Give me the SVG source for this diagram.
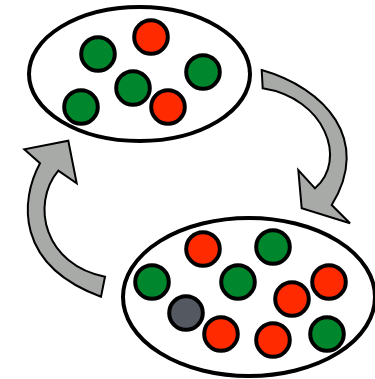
<svg xmlns="http://www.w3.org/2000/svg" width="375" height="379" viewBox="0 0 375 379">
<style>
.pool{fill:#fff;stroke:#000;stroke-width:4}
.b{stroke:#000;stroke-width:4}
.g{fill:#00872d}
.r{fill:#ff2a00}
.k{fill:#545861}
.arr{fill:#a8aaa8;stroke:#000;stroke-width:2;stroke-linejoin:miter}
</style>
<rect width="375" height="379" fill="#fff"/>
<g id="connectors">
<path class="arr" d="M261.7,70 C325,88 372,140 331.7,205 L350,223.3 L301.7,208.3 L298.3,170 L315,188.3 C348,160 325,98 262.7,88.3 Z"/>
<path class="arr" d="M105,276.7 C45,265 30,205 58.3,170.7 L76.7,183.3 L68.3,140.7 L24.3,149.3 L40,163.3 C20,200 15,265 101,296.7 Z"/>
</g>
<g id="top-pool">
<ellipse class="pool" cx="139.5" cy="74" rx="110.5" ry="67"/>
<circle class="b g" cx="98" cy="54" r="16.8"/>
<circle class="b r" cx="151" cy="37" r="16.8"/>
<circle class="b g" cx="203" cy="72" r="16.8"/>
<circle class="b g" cx="133" cy="88" r="16.8"/>
<circle class="b g" cx="81" cy="107" r="16.8"/>
<circle class="b r" cx="168" cy="107" r="16.8"/>
</g>
<g id="bottom-pool">
<ellipse class="pool" cx="249" cy="297" rx="126" ry="79"/>
<circle class="b r" cx="203" cy="249" r="16.8"/>
<circle class="b g" cx="273" cy="247" r="16.8"/>
<circle class="b g" cx="152" cy="282" r="16.8"/>
<circle class="b g" cx="238" cy="282" r="16.8"/>
<circle class="b r" cx="329" cy="282" r="16.8"/>
<circle class="b r" cx="292" cy="299" r="16.8"/>
<circle class="b k" cx="186" cy="313" r="16.8"/>
<circle class="b r" cx="221" cy="334" r="16.8"/>
<circle class="b r" cx="273" cy="340" r="16.8"/>
<circle class="b g" cx="327" cy="334" r="16.8"/>
</g>
</svg>
